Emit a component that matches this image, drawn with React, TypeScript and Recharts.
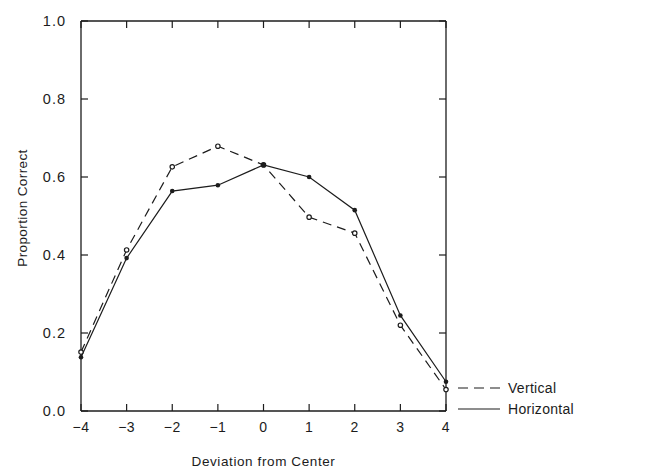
import { LineChart, Line, XAxis, YAxis } from 'recharts';

const deviations = [-4, -3, -2, -1, 0, 1, 2, 3, 4];
const verticalValues = [0.151, 0.413, 0.626, 0.679, 0.631, 0.497, 0.456, 0.22, 0.055];
const horizontalValues = [0.138, 0.392, 0.564, 0.579, 0.631, 0.6, 0.515, 0.245, 0.075];
const xTicks = [-4, -3, -2, -1, 0, 1, 2, 3, 4];
const yTicks = [0, 0.2, 0.4, 0.6, 0.8, 1.0];

const data = deviations.map((d, i) => ({
    x: d,
    vertical: verticalValues[i],
    horizontal: horizontalValues[i],
}));

const INK = '#1c1c1c';
const FONT = '"Liberation Sans", Arial, Helvetica, sans-serif';

const fmtX = (v: number) => (v < 0 ? `\u2212${Math.abs(v)}` : `${v}`);

// ticks point inward, labels only on left/bottom
const BottomTick = ({ x, y, payload }: any) => (
    <g>
        <line x1={x} x2={x} y1={y} y2={y - 7} stroke={INK} strokeWidth={1.2} />
        <text x={x} y={y + 21} textAnchor="middle" fontSize={14} fill={INK} fontFamily={FONT} letterSpacing={0.5}>
            {fmtX(payload.value)}
        </text>
    </g>
);

const TopTick = ({ x, y }: any) => (
    <line x1={x} x2={x} y1={y} y2={y + 7} stroke={INK} strokeWidth={1.2} />
);

const LeftTick = ({ x, y, payload }: any) => (
    <g>
        <line x1={x} x2={x + 7} y1={y} y2={y} stroke={INK} strokeWidth={1.2} />
        <text x={x - 15} y={y + 5} textAnchor="end" fontSize={14.5} fill={INK} fontFamily={FONT} letterSpacing={1}>
            {payload.value.toFixed(1)}
        </text>
    </g>
);

const RightTick = ({ x, y }: any) => (
    <line x1={x} x2={x - 7} y1={y} y2={y} stroke={INK} strokeWidth={1.2} />
);

const OpenDot = ({ cx, cy }: any) => (
    <circle cx={cx} cy={cy} r={2.2} fill="#fff" stroke={INK} strokeWidth={1.2} />
);

const FilledDot = ({ cx, cy }: any) => (
    <circle cx={cx} cy={cy} r={2.3} fill={INK} stroke="none" />
);

const LegendBox = () => (
    <svg width={190} height={44} style={{ overflow: 'visible', display: 'block' }}>
        <line x1={0} x2={42} y1={10} y2={10} stroke={INK} strokeWidth={1.2} strokeDasharray="10 6" />
        <text x={50} y={15} fontSize={14} fill={INK} fontFamily={FONT} letterSpacing={0.3}>Vertical</text>
        <line x1={0} x2={42} y1={31} y2={31} stroke={INK} strokeWidth={1.2} />
        <text x={50} y={36} fontSize={14} fill={INK} fontFamily={FONT} letterSpacing={0.3}>Horizontal</text>
    </svg>
);

const axisCommon = {
    type: 'number' as const,
    tickSize: 0,
    tickMargin: 0,
    tickLine: false,
    stroke: INK,
    strokeWidth: 1.3,
};

export default function App() {
    return (
        <div style={{ position: 'absolute', left: 0, top: 0, width: 649, height: 473, background: '#fff' }}>
            <LineChart
                width={649}
                height={473}
                data={data}
                margin={{ top: 20, right: 202, bottom: 22, left: 21 }}
            >
                <XAxis
                    {...axisCommon}
                    dataKey="x"
                    domain={[-4, 4]}
                    ticks={xTicks}
                    height={40}
                    tick={<BottomTick />}
                    label={{ value: 'Deviation from Center', position: 'insideBottom', offset: -15, fontSize: 13.5, fill: INK, fontFamily: FONT, letterSpacing: 0.6 }}
                />
                <XAxis
                    {...axisCommon}
                    xAxisId="top"
                    orientation="top"
                    dataKey="x"
                    domain={[-4, 4]}
                    ticks={xTicks}
                    height={1}
                    tick={<TopTick />}
                />
                <YAxis
                    {...axisCommon}
                    domain={[0, 1]}
                    ticks={yTicks}
                    width={60}
                    tick={<LeftTick />}
                    label={{ value: 'Proportion Correct', angle: -90, position: 'insideLeft', offset: 1, dy: -8, fontSize: 13.5, fill: INK, fontFamily: FONT, letterSpacing: 0.4, style: { textAnchor: 'middle' } }}
                />
                <YAxis
                    {...axisCommon}
                    yAxisId="right"
                    orientation="right"
                    domain={[0, 1]}
                    ticks={yTicks}
                    width={1}
                    tick={<RightTick />}
                />
                {/* vertical series sits on the top/right axes so those frame axes get drawn; same domains */}
                <Line
                    xAxisId="top"
                    yAxisId="right"
                    dataKey="vertical"
                    name="Vertical"
                    stroke={INK}
                    strokeWidth={1.2}
                    strokeDasharray="9 6"
                    dot={<OpenDot />}
                    activeDot={false}
                    isAnimationActive={false}
                />
                <Line
                    dataKey="horizontal"
                    name="Horizontal"
                    stroke={INK}
                    strokeWidth={1.2}
                    dot={<FilledDot />}
                    activeDot={false}
                    isAnimationActive={false}
                />
            </LineChart>
            <div style={{ position: 'absolute', left: 458, top: 378 }}>
                <LegendBox />
            </div>
        </div>
    );
}
